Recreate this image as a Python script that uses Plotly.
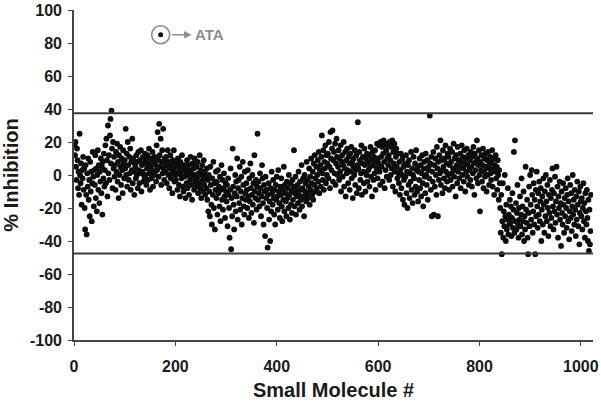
import plotly.graph_objects as go

# % inhibition for each small molecule (20 per row)
inhibition = [
    18, 12, 20, 5, -3, 16, 9, -8, 2, -12, 25, 0, -5, 7, -18, 3, -2, 11, -9, 4,
    -20, -33, 6, -12, -36, 1, -7, 10, -15, -3, -25, 8, -10, 2, -28, -5, 14, -1, -19, 3,
    -6, 12, -14, 4, -22, 0, 15, -9, 6, -17, 2, -4, 10, -11, 5, -24, 8, -2, 13, -7,
    3, 18, -5, 22, 9, -13, 30, 1, 12, -3, 24, 34, 7, 39, 16, -8, 20, 4, 11, -1,
    6, -9, 14, 2, 19, -4, 8, -14, 12, 0, 17, 5, -6, 10, 3, -11, 15, 7, -2, 9,
    4, 28, 0, 13, -7, 20, 6, -3, 11, 1, 16, -9, 8, 3, 22, -5, 10, 2, -12, 7,
    5, -2, 12, 0, 8, -8, 14, 3, -5, 9, 1, 15, -10, 6, 2, 11, -4, 7, -1, 13,
    0, 9, -6, 4, 12, -3, 7, 16, 1, -9, 5, 10, -2, 3, 14, -7, 8, 0, 11, 2,
    6, -4, 18, 3, 26, 9, -1, 31, 12, 5, 22, -6, 8, 15, 1, 28, 4, -3, 10, 7,
    2, 11, -5, 6, 15, 0, 8, -8, 4, 12, -2, 7, 1, -11, 9, 3, 15, -4, 5, 0,
    -3, 7, 1, -9, 10, 2, -6, 5, -13, 8, 0, -2, 12, -7, 3, -10, 6, -1, 4, -14,
    2, -5, 9, -8, 0, 6, -12, 3, -3, 11, -6, 1, -15, 7, -1, 4, -9, 10, -4, 0,
    -7, 5, -2, 8, -11, 1, -5, 12, -8, 3, -14, 0, 6, -3, -10, 9, -6, 2, -12, -1,
    -8, 4, -15, -3, -22, 0, -10, -25, 5, -6, -18, -30, -2, -12, 8, -20, -5, -33, -9, 2,
    -14, -4, -24, 3, -11, -7, -19, -1, -28, -9, 6, -15, -3, -21, -8, 1, -13, -26, -5, -10,
    -16, -6, -31, -2, -12, -20, -38, -9, 4, -45, -14, -25, 16, -7, -18, -33, -11, 0, -22, -4,
    -13, 10, -27, -8, -3, -17, 5, -21, -10, -1, -30, -14, 8, -6, -19, -24, 2, -11, -15, -5,
    -9, -20, 3, -13, -26, -2, -16, 7, -8, -23, -12, 0, -18, -5, -29, 12, -10, -14, -3, -21,
    -7, 25, -15, -4, -11, -19, 1, -8, -25, -13, 6, -2, -17, -30, -6, -10, -37, -1, -14, -9,
    -20, -44, -12, -5, -27, -16, -40, -8, -22, 2, -11, -18, -3, -14, -24, -9, -30, -6, -15, -1,
    -13, -21, 3, -10, -17, -26, -7, -12, -2, -19, -28, -9, -15, 5, -22, -6, -11, -16, -25, -4,
    -14, -8, -20, 0, -12, -27, -5, -18, -10, -23, -3, -15, -7, 15, -19, -11, -1, -24, -9, -13,
    -6, -17, 2, -12, -21, -4, -9, -15, 6, -19, -8, -2, -13, -25, 0, -10, -5, -16, 8, -11,
    -3, -14, -7, 4, -18, -1, -9, 10, -5, -12, 2, -15, 7, -6, 12, -2, -10, 5, -8, 0,
    9, -4, 14, -11, 3, 6, -7, 11, 24, 1, -3, 15, -9, 8, 4, 18, -5, 12, 0, 7,
    13, -2, 20, 5, -8, 26, 10, 3, 16, 27, -4, 9, 14, 1, 19, -6, 7, 22, 11, 0,
    5, 15, -3, 10, 2, 18, -10, 8, 12, -1, 6, 20, -7, 4, 14, -13, 9, 1, 16, 3,
    -5, 11, 7, -9, 13, 2, 17, -2, 8, -14, 5, 10, 0, 15, -6, 3, 12, -11, 6, 32,
    4, -8, 14, 9, -3, 1, 18, -12, 7, 11, 2, -5, 16, 6, -10, 10, 0, 13, -4, 8,
    3, 12, -7, 5, 17, -1, 9, -13, 14, 6, -3, 11, 1, 15, -9, 8, 4, 19, -2, 10,
    7, 18, 2, -6, 20, 11, 5, 17, -4, 13, 21, 8, -8, 19, 3, 15, -1, 10, 18, 6,
    12, -3, 20, 9, 0, 17, 4, 21, -7, 14, 7, 19, 2, -10, 11, 16, 5, -2, 13, 1,
    -5, 8, -12, 3, 13, -8, 0, 10, -15, 5, -3, -18, 7, -1, 12, -11, 2, -20, 6, -6,
    9, -14, 1, -4, 14, -9, 4, -17, 0, 11, -2, -12, 7, -7, 15, 3, -10, 5, -16, 2,
    -3, 10, -8, 6, -13, 1, 12, -5, -19, 4, 8, -1, -11, 13, 0, -6, 9, -15, 3, 5,
    -2, 36, 7, -9, 11, -25, 2, -4, 14, -24, 6, -7, 10, 0, -12, 17, 4, -25, 8, -3,
    12, 1, 21, -6, 9, 3, -11, 15, 5, -2, 10, -8, 18, 2, 7, -4, 13, 0, 11, -9,
    6, 16, -3, 8, 1, 14, -7, 4, 19, -1, 10, 3, -13, 12, 6, -5, 17, 2, 9, -2,
    5, 13, -8, 8, 18, 0, 11, 4, -4, 15, 7, -10, 10, 2, 16, -1, 6, 12, -6, 3,
    9, -3, 14, 5, -7, 11, 1, 17, 7, -12, 13, 3, 8, -2, 21, 10, -5, 6, 15, 0,
    -22, 8, 3, 12, -4, 6, 16, -8, 2, 10, -1, 13, 5, -10, 9, 0, 14, 4, -6, 7,
    11, 1, -3, 8, 15, -7, 4, 10, -12, 6, 2, 12, -2, 5, -9, 9, 0, -15, 3, -5,
    -20, -35, -12, -48, -28, -5, -38, -22, -31, 0, -25, -40, -18, -33, -27, -8, -36, -24, -30, -15,
    -29, -19, -37, -26, -11, -32, -21, 14, -35, 21, -28, -17, -33, -23, -6, -30, -38, -20, -27, -13,
    -31, -24, -2, -36, -19, -28, -10, -40, -25, -33, 5, -21, -29, -15, -38, -48, -23, -7, -31, 0,
    -18, -27, 3, -12, -35, -22, -5, -30, -15, -48, -9, -25, 2, -19, -32, -11, -24, -4, -28, -16,
    -8, -40, -21, -13, -30, -2, -18, -35, -10, -25, 0, -16, -28, -6, -20, -37, -12, -23, -3, -31,
    -14, -26, -9, 4, -19, -33, -11, -22, -1, -29, -16, 5, -24, -7, -38, -13, -20, -4, -27, -17,
    -43, -10, -23, -30, -5, -18, -35, -14, -25, -8, -20, -32, -12, -2, -28, -16, -39, -22, -6, -26,
    -11, -34, -19, 0, -24, -15, -30, -9, -21, -37, -13, -27, -4, -18, -31, -10, -42, -23, -7, -16,
    -25, -14, -33, -20, -5, -28, -17, -38, -11, -22, -30, -9, -26, -40, -15, -46, -21, -42, -34, -12,
]
molecule = list(range(1, len(inhibition) + 1))

# hit thresholds (horizontal lines)
upper_cut = 37.5
lower_cut = -47.5

# the positive control marked in the corner
ata_x = 171
ata_y = 85

x_ticks = [0, 200, 400, 600, 800, 1000]
y_ticks = [-100, -80, -60, -40, -20, 0, 20, 40, 60, 80, 100]
y_tick_labels = ['-100', '-80', '-60', '-40', '-20', '0', '20', '40', '60', '80', '100']

font_family = 'Liberation Sans, Arial, sans-serif'
ink = '#1a1a1a'
grey = '#8c8c8c'

traces = [
    go.Scatter(
        x=molecule,
        y=inhibition,
        mode='markers',
        marker=dict(symbol='circle', size=5.8, color='#0d0d0d'),
        ),
    go.Scatter(
        x=[ata_x],
        y=[ata_y],
        mode='markers',
        marker=dict(symbol='circle-open', size=18, color=grey,
                    line=dict(color=grey, width=1.6)),
        ),
    go.Scatter(
        x=[ata_x],
        y=[ata_y],
        mode='markers',
        marker=dict(symbol='circle', size=5, color='#0d0d0d'),
        ),
    ]

axis_style = dict(
    ticks='outside',
    ticklen=4,
    tickwidth=1.2,
    tickcolor='#444',
    showline=True,
    linecolor='#444',
    linewidth=1.6,
    showgrid=False,
    zeroline=False,
    automargin=False,
    tickfont=dict(size=16, family=font_family, weight='bold'),
    )

layout = go.Layout(
    width=601,
    height=401,
    showlegend=False,
    paper_bgcolor='white',
    plot_bgcolor='white',
    margin=dict(l=74, r=8, t=10, b=61),
    font=dict(family=font_family, color=ink),
    xaxis=dict(
        axis_style,
        range=[0, 1024],
        tickvals=x_ticks,
        ticklabelstandoff=7,
        title=dict(text='Small Molecule #',
                   font=dict(size=20, family=font_family, weight='bold'),
                   standoff=9),
        ),
    yaxis=dict(
        axis_style,
        range=[-100, 100],
        tickvals=y_ticks,
        ticktext=y_tick_labels,
        ticklabelstandoff=3,
        title=dict(text='% Inhibition',
                   font=dict(size=20, family=font_family, weight='bold'),
                   standoff=8),
        ),
    shapes=[
        dict(type='line', xref='x', yref='y', x0=0, x1=1024,
             y0=upper_cut, y1=upper_cut, line=dict(color='#3a3a3a', width=2)),
        dict(type='line', xref='x', yref='y', x0=0, x1=1024,
             y0=lower_cut, y1=lower_cut, line=dict(color='#3a3a3a', width=2)),
        ],
    annotations=[
        dict(x=232, y=ata_y, ax=191, ay=ata_y, xref='x', yref='y',
             axref='x', ayref='y', text='', showarrow=True,
             arrowhead=2, arrowsize=1, arrowwidth=1.5, arrowcolor=grey),
        dict(x=234, y=ata_y, xref='x', yref='y', text='ATA',
             showarrow=False, xanchor='left',
             font=dict(size=15, color=grey, family=font_family, weight='bold')),
        ],
    )

fig = go.Figure(data=traces, layout=layout)
# drop the page's default body margin so the figure sits at the window corner
fig.write_html('out.html', config={'displayModeBar': False},
               post_script="document.body.style.margin = '0';")
